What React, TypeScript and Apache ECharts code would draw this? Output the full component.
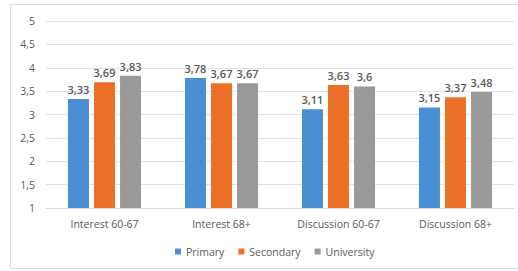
import React, { useEffect, useRef } from "react";
import * as echarts from "echarts";

const categories = ["Interest 60-67", "Interest 68+", "Discussion 60-67", "Discussion 68+"];
const seriesNames = ["Primary", "Secondary", "University"];
const primary = [3.33, 3.78, 3.11, 3.15];
const secondary = [3.69, 3.67, 3.63, 3.37];
const university = [3.83, 3.67, 3.6, 3.48];
const colors = ["#4a8fd3", "#ed7028", "#999999"];

const fmt = (v: number) => String(v).replace(".", ",");
const FONT = "Open Sans";
const TXT = "#595959";

export default function App() {
  const ref = useRef<HTMLDivElement>(null);
  useEffect(() => {
    if (!ref.current) return;
    const chart = echarts.init(ref.current, undefined, { renderer: "svg" });
    const values = [primary, secondary, university];
    chart.setOption({
      animation: false,
      backgroundColor: "#ffffff",
      textStyle: { fontFamily: FONT },
      graphic: [
        {
          type: "rect",
          shape: { x: 10.5, y: 4.5, width: 520, height: 264 },
          style: { fill: "none", stroke: "#dcdcdc", lineWidth: 1 },
          silent: true,
        },
      ],
      grid: { left: 46, right: 4, top: 21, bottom: 63, containLabel: false },
      legend: {
        data: seriesNames,
        top: 241,
        left: 170,
        icon: "rect",
        itemWidth: 6,
        itemHeight: 6,
        itemGap: 14,
        textStyle: { color: TXT, fontSize: 10.5, fontFamily: FONT, fontWeight: 500 },
      },
      xAxis: {
        type: "category",
        data: categories,
        axisTick: { show: false },
        axisLine: { lineStyle: { color: "#d9d9d9" } },
        axisLabel: { color: TXT, fontSize: 10.5, margin: 10, fontFamily: FONT, fontWeight: 500 },
      },
      yAxis: {
        type: "value",
        min: 1,
        max: 5,
        interval: 0.5,
        axisLine: { show: false },
        axisTick: { show: false },
        splitLine: { lineStyle: { color: "#e0e0e0" } },
        axisLabel: {
          color: TXT,
          fontSize: 10.5,
          margin: 11,
          fontFamily: FONT,
          fontWeight: 500,
          formatter: (v: number) => fmt(v),
        },
      },
      series: seriesNames.map((name, i) => ({
        name,
        type: "bar",
        data: values[i],
        barWidth: 21,
        barGap: "24%",
        itemStyle: { color: colors[i] },
        label: {
          show: true,
          position: "top",
          distance: 4,
          color: TXT,
          fontSize: 11,
          fontWeight: 600,
          fontFamily: FONT,
          formatter: (p: any) => fmt(p.value),
        },
      })),
    });
    return () => chart.dispose();
  }, []);
  return (
    <div
      ref={ref}
      style={{ position: "absolute", left: 0, top: 0, width: 518, height: 271 }}
    />
  );
}
